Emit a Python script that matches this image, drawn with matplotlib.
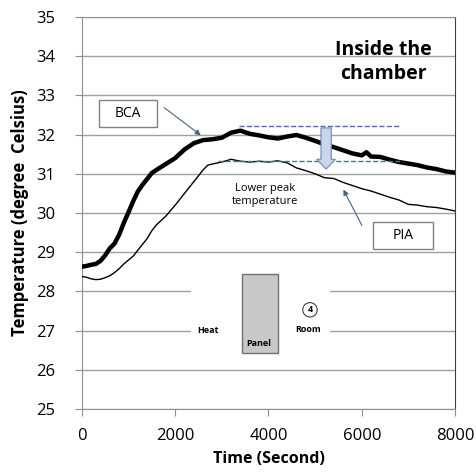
import matplotlib.pyplot as plt
import matplotlib.patches as mpatches

# time (s) and temperatures
bcaTime = [0, 100, 200, 300, 400, 500, 600, 700, 800, 900, 1000, 1100, 1200, 1300, 1400,
           1500, 1600, 1800, 2000, 2200, 2400, 2600, 2800, 3000, 3200, 3400, 3600, 3800,
           4000, 4200, 4400, 4600, 4800, 5000, 5200, 5400, 5600, 5800, 6000, 6100, 6200,
           6400, 6600, 6800, 7000, 7200, 7400, 7600, 7800, 8000]
bcaTemp = [28.63, 28.65, 28.68, 28.7, 28.78, 28.92, 29.1, 29.22, 29.45, 29.75, 30.02, 30.3,
           30.55, 30.72, 30.87, 31.02, 31.1, 31.25, 31.4, 31.62, 31.78, 31.86, 31.88, 31.92,
           32.05, 32.1, 32.02, 31.98, 31.93, 31.9, 31.95, 31.99, 31.92, 31.84, 31.75, 31.68,
           31.6, 31.52, 31.47, 31.55, 31.44, 31.43, 31.36, 31.3, 31.26, 31.22, 31.16, 31.12,
           31.06, 31.03]

piaTime = [0, 100, 200, 300, 400, 500, 600, 700, 800, 900, 1000, 1100, 1200, 1300, 1400,
           1500, 1600, 1800, 2000, 2200, 2400, 2600, 2700, 2800, 3000, 3200, 3400, 3600,
           3800, 4000, 4200, 4400, 4600, 4800, 5000, 5200, 5400, 5600, 5800, 6000, 6200,
           6400, 6600, 6800, 7000, 7200, 7400, 7600, 7800, 8000]
piaTemp = [28.38, 28.36, 28.32, 28.3, 28.31, 28.35, 28.4, 28.48, 28.58, 28.7, 28.8, 28.9,
           29.05, 29.2, 29.35, 29.55, 29.7, 29.92, 30.2, 30.5, 30.8, 31.1, 31.22, 31.25,
           31.3, 31.37, 31.32, 31.3, 31.32, 31.3, 31.33, 31.28, 31.15, 31.08, 31.0, 30.9,
           30.88, 30.78, 30.7, 30.62, 30.56, 30.48, 30.4, 30.33, 30.22, 30.2, 30.16, 30.14,
           30.1, 30.05]

yTicks = [25, 26, 27, 28, 29, 30, 31, 32, 33, 34, 35]
xTicks = [0, 2000, 4000, 6000, 8000]

plt.rcParams['font.family'] = ['Open Sans', 'DejaVu Sans']

fig = plt.figure(figsize=(4.76, 4.72), dpi=100)
ax = fig.add_axes([0.172, 0.1335, 0.784, 0.8305])

ax.set_xlim(0, 8000)
ax.set_ylim(25, 35)
ax.set_xticks(xTicks)
ax.set_yticks(yTicks)
ax.tick_params(labelsize=12, length=5, color='#909090')
ax.tick_params(axis='y', pad=14)
ax.tick_params(axis='x', pad=9)
ax.yaxis.grid(True, color='#a0a0a0', lw=1, zorder=0)
ax.set_axisbelow(True)
for s in ['left', 'bottom', 'top']:
    ax.spines[s].set_color('#909090')
ax.spines['right'].set_color('#404040')

ax.set_xlabel('Time (Second)', fontsize=11.5, fontweight='bold', labelpad=5)
ax.set_ylabel('Temperature (degree  Celsius)', fontsize=12, fontweight='bold', labelpad=5)

ax.plot(bcaTime, bcaTemp, color='black', lw=3.2, zorder=3)
ax.plot(piaTime, piaTemp, color='black', lw=1.0, zorder=3)

# inset picture of the room (covers grid lines)
ax.add_patch(mpatches.Rectangle((2340, 26.3), 2980, 2.2, facecolor='white', edgecolor='none', zorder=1))
ax.add_patch(mpatches.Rectangle((3433, 26.43), 773, 2.01, facecolor='#c8c8c8', edgecolor='#707070', lw=1, zorder=2))
ax.text(2704, 26.99, 'Heat', fontsize=6.5, fontweight='bold', ha='center', va='center')
ax.text(3800, 26.68, 'Panel', fontsize=6.5, fontweight='bold', ha='center', va='center')
ax.text(4850, 27.04, 'Room', fontsize=6.5, fontweight='bold', ha='center', va='center')
ax.text(4890, 27.53, '4', fontsize=6.5, fontweight='bold', ha='center', va='center',
        bbox=dict(boxstyle='circle,pad=0.3', facecolor='white', edgecolor='#404040', lw=0.8))

ax.text(6460, 33.85, 'Inside the\nchamber', fontsize=14, fontweight='bold', ha='center',
        va='center', linespacing=1.25)

# labels with boxes
ax.add_patch(mpatches.Rectangle((365, 32.19), 1244, 0.69, facecolor='white', edgecolor='#808080', lw=1, zorder=4))
ax.text(987, 32.55, 'BCA', fontsize=10, ha='center', va='center', zorder=5)
ax.add_patch(mpatches.Rectangle((6245, 29.08), 1287, 0.69, facecolor='white', edgecolor='#808080', lw=1, zorder=4))
ax.text(6888, 29.43, 'PIA', fontsize=10, ha='center', va='center', zorder=5)

ax.annotate('', xy=(2597, 31.94), xytext=(1717, 32.73),
            arrowprops=dict(arrowstyle='-|>', color='#4a5f8a', lw=0.8, mutation_scale=8))
ax.annotate('', xy=(5579, 30.66), xytext=(6030, 29.62),
            arrowprops=dict(arrowstyle='-|>', color='#4a5f8a', lw=0.8, mutation_scale=8))

ax.plot([3369, 6803], [32.22, 32.22], color='#4f6fa8', lw=1, ls='--', zorder=4)
ax.plot([2918, 6824], [31.33, 31.33], color='#4f6fa8', lw=1, ls='--', zorder=4)
ax.add_patch(mpatches.FancyArrow(5236, 32.17, 0, -1.05, width=220, head_width=400, head_length=0.25,
                                 length_includes_head=True, facecolor='#c9d5e8', edgecolor='#7088b0',
                                 lw=0.8, zorder=5))

ax.text(3927, 30.46, 'Lower peak\ntemperature', fontsize=8, ha='center', va='center', linespacing=1.3)

plt.savefig('out.png', dpi=100)
